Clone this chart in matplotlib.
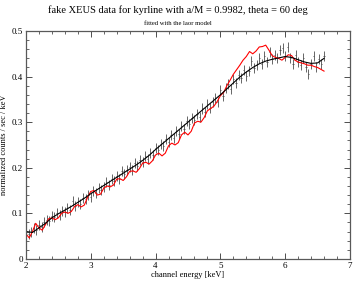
import numpy as np
import matplotlib
matplotlib.use('Agg')
import matplotlib.pyplot as plt
from matplotlib.ticker import MultipleLocator

plt.rcParams['font.family'] = ['Liberation Serif', 'DejaVu Serif']

# channel energies of the fake spectrum (keV)
data_energy = np.round(np.arange(2.0, 6.61, 0.04), 2)
data_counts = [
    0.062, 0.055, 0.060, 0.068, 0.063, 0.075, 0.071, 0.080, 0.085, 0.083,
    0.095, 0.092, 0.101, 0.097, 0.106, 0.103, 0.112, 0.108, 0.126, 0.117,
    0.124, 0.120, 0.134, 0.131, 0.141, 0.136, 0.150, 0.144, 0.155, 0.152,
    0.158, 0.168, 0.163, 0.175, 0.170, 0.182, 0.176, 0.192, 0.186, 0.195,
    0.201, 0.194, 0.210, 0.204, 0.216, 0.212, 0.225, 0.219, 0.232, 0.228,
    0.243, 0.238, 0.252, 0.247, 0.262, 0.256, 0.271, 0.266, 0.280, 0.275,
    0.292, 0.284, 0.302, 0.297, 0.310, 0.305, 0.318, 0.312, 0.330, 0.322,
    0.340, 0.331, 0.345, 0.352, 0.345, 0.370, 0.358, 0.375, 0.384, 0.372,
    0.395, 0.385, 0.404, 0.396, 0.415, 0.402, 0.412, 0.435, 0.418, 0.425,
    0.440, 0.427, 0.446, 0.432, 0.455, 0.438, 0.448, 0.440, 0.458, 0.462,
    0.445, 0.466, 0.440, 0.428, 0.448, 0.432, 0.425, 0.441, 0.420, 0.405,
    0.428, 0.445, 0.422, 0.438, 0.428, 0.445,
]
data_err = 0.011

# kyrline model (black)
model_energy = np.round(np.arange(2.0, 6.61, 0.1), 2)
model_counts = [
    0.060, 0.058, 0.068, 0.078, 0.090, 0.099, 0.107, 0.115, 0.124, 0.133,
    0.143, 0.152, 0.161, 0.170, 0.179, 0.188, 0.197, 0.206, 0.216, 0.227,
    0.240, 0.252, 0.264, 0.276, 0.288, 0.300, 0.312, 0.324, 0.336, 0.348,
    0.360, 0.373, 0.386, 0.399, 0.410, 0.420, 0.428, 0.434, 0.438, 0.441,
    0.444, 0.442, 0.437, 0.432, 0.429, 0.430, 0.440,
]

# laor fit (red)
laor_energy = np.round(np.arange(2.0, 6.61, 0.05), 2)
laor_counts = [
    0.055, 0.046, 0.060, 0.078, 0.068, 0.063, 0.075, 0.088, 0.090, 0.086,
    0.090, 0.100, 0.103, 0.100, 0.104, 0.115, 0.119, 0.114, 0.118, 0.135,
    0.148, 0.150, 0.140, 0.142, 0.155, 0.160, 0.158, 0.162, 0.175, 0.176,
    0.172, 0.180, 0.192, 0.193, 0.190, 0.198, 0.210, 0.212, 0.208, 0.215,
    0.228, 0.232, 0.226, 0.232, 0.248, 0.254, 0.250, 0.255, 0.272, 0.278,
    0.272, 0.280, 0.298, 0.302, 0.300, 0.310, 0.325, 0.330, 0.335, 0.345,
    0.358, 0.365, 0.380, 0.392, 0.405, 0.415, 0.425, 0.436, 0.444, 0.455,
    0.450, 0.456, 0.465, 0.466, 0.469, 0.458, 0.446, 0.442, 0.440, 0.436,
    0.442, 0.448, 0.446, 0.436, 0.432, 0.430, 0.428, 0.425, 0.425, 0.422,
    0.420, 0.416, 0.412,
]

fig = plt.figure(figsize=(3.56, 2.82), dpi=100)
ax = fig.add_axes([0.073, 0.082, 0.910, 0.808])

ax.errorbar(data_energy, data_counts, yerr=data_err, xerr=0.01, fmt='none',
            ecolor='0.3', elinewidth=0.6)
ax.plot(laor_energy, laor_counts, color='red', lw=0.8)
ax.plot(model_energy, model_counts, color='black', lw=0.8)

ax.set_xlim(2, 7)
ax.set_ylim(0, 0.5)
ax.xaxis.set_major_locator(MultipleLocator(1))
ax.xaxis.set_minor_locator(MultipleLocator(0.2))
ax.yaxis.set_major_locator(MultipleLocator(0.1))
ax.yaxis.set_minor_locator(MultipleLocator(0.02))
ax.set_yticklabels(['0', '0.1', '0.2', '0.3', '0.4', '0.5'])
ax.set_yticks(np.arange(0, 0.51, 0.1))
ax.set_yticklabels(['0', '0.1', '0.2', '0.3', '0.4', '0.5'])
ax.tick_params(which='both', direction='in', top=True, right=True,
               labelsize=6.5, color='0.3', pad=2)
ax.tick_params(which='major', length=4, width=0.7)
ax.tick_params(which='minor', length=2, width=0.6)
for s in ax.spines.values():
    s.set_color('0.35')
    s.set_linewidth(0.9)

ax.set_xlabel('channel energy [keV]', fontsize=6, labelpad=1)
ax.set_ylabel('normalized counts / sec / keV', fontsize=6, labelpad=3)
fig.text(0.5, 0.965, 'fake XEUS data for kyrline with a/M = 0.9982, theta = 60 deg',
         ha='center', va='center', fontsize=7.5)
fig.text(0.5, 0.915, 'fitted with the laor model', ha='center', va='center',
         fontsize=4.8)

fig.savefig('out.png', dpi=100)
